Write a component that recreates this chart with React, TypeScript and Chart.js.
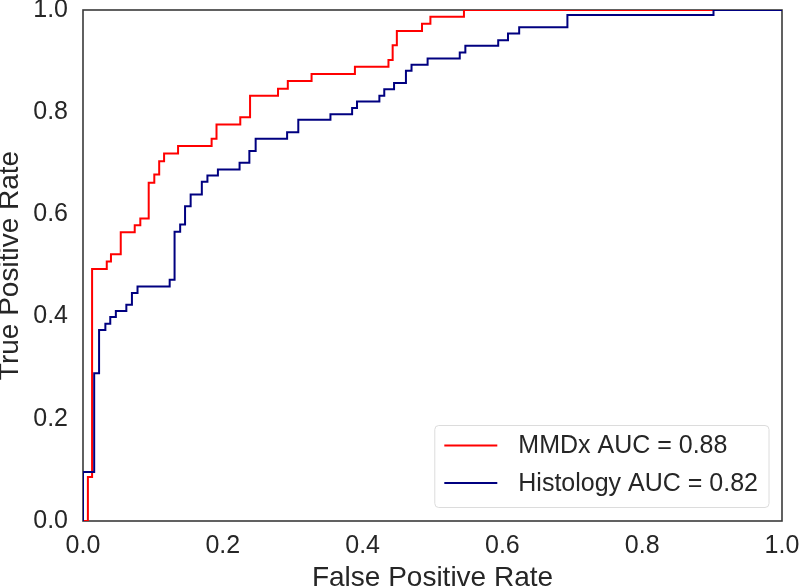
import React, { useEffect, useRef } from 'react';
import { Chart, registerables } from 'chart.js';

Chart.register(...registerables);

const FONT = "'Liberation Sans', Arial, Helvetica, sans-serif";
const TEXT_COLOR = '#262626';

const xTitle = 'False Positive Rate';
const yTitle = 'True Positive Rate';
const xTicks = [0, 0.2, 0.4, 0.6, 0.8, 1.0];
const yTicks = [0, 0.2, 0.4, 0.6, 0.8, 1.0];

const mmdxLabel = 'MMDx AUC = 0.88';
const mmdxColor = '#ff0000';
const mmdxFpr = [0, 0.007, 0.013, 0.034, 0.04, 0.054, 0.074, 0.082, 0.094, 0.102, 0.109, 0.116, 0.136, 0.184, 0.191, 0.225, 0.239, 0.279, 0.293, 0.327, 0.389, 0.437, 0.443, 0.449, 0.485, 0.497, 0.545, 1.0];
const mmdxTpr = [0, 0.086, 0.493, 0.508, 0.522, 0.565, 0.579, 0.592, 0.662, 0.678, 0.704, 0.719, 0.734, 0.748, 0.776, 0.79, 0.832, 0.846, 0.861, 0.875, 0.889, 0.902, 0.931, 0.959, 0.973, 0.987, 1.0, 1.0];

const histologyLabel = 'Histology AUC = 0.82';
const histologyColor = '#000080';
const histologyFpr = [0, 0, 0.016, 0.023, 0.032, 0.039, 0.047, 0.062, 0.07, 0.078, 0.124, 0.131, 0.139, 0.146, 0.154, 0.17, 0.178, 0.193, 0.224, 0.238, 0.247, 0.292, 0.308, 0.354, 0.385, 0.392, 0.424, 0.431, 0.445, 0.462, 0.47, 0.493, 0.539, 0.547, 0.594, 0.608, 0.624, 0.693, 0.902, 1.0];
const histologyTpr = [0, 0.096, 0.289, 0.374, 0.386, 0.399, 0.411, 0.423, 0.446, 0.459, 0.472, 0.566, 0.58, 0.616, 0.639, 0.664, 0.676, 0.688, 0.701, 0.724, 0.748, 0.761, 0.785, 0.796, 0.808, 0.821, 0.832, 0.845, 0.857, 0.881, 0.893, 0.905, 0.917, 0.93, 0.941, 0.954, 0.966, 0.99, 1.0, 1.0];

const toPoints = (xs: number[], ys: number[]) => xs.map((x, i) => ({ x, y: ys[i] }));

const framePlugin = {
  id: 'frame',
  beforeDatasetsDraw(chart: any) {
    const { ctx, chartArea: a } = chart;
    ctx.save();
    ctx.strokeStyle = '#3a3a3a';
    ctx.lineWidth = 1.6;
    ctx.strokeRect(a.left, a.top, a.right - a.left, a.bottom - a.top);
    ctx.restore();
  },
};

const legendPlugin = {
  id: 'insideLegend',
  afterDraw(chart: any) {
    const { ctx, chartArea: a } = chart;
    const items = [
      { label: mmdxLabel, color: mmdxColor },
      { label: histologyLabel, color: histologyColor },
    ];
    ctx.save();
    ctx.font = `25px ${FONT}`;
    const textW = Math.max(...items.map((it) => ctx.measureText(it.label).width));
    const padL = 9.5;
    const lineLen = 53;
    const gap = 21;
    const padR = 11;
    const boxW = padL + lineLen + gap + textW + padR;
    const boxH = 82;
    const x0 = a.right - 13 - boxW;
    const y0 = a.bottom - 13.5 - boxH;
    ctx.beginPath();
    ctx.roundRect(x0, y0, boxW, boxH, 4);
    ctx.fillStyle = 'rgba(255,255,255,0.85)';
    ctx.fill();
    ctx.strokeStyle = '#dcdcdc';
    ctx.lineWidth = 1;
    ctx.stroke();
    items.forEach((it, i) => {
      const cy = y0 + 20 + i * 37.6;
      ctx.beginPath();
      ctx.moveTo(x0 + padL, cy);
      ctx.lineTo(x0 + padL + lineLen, cy);
      ctx.strokeStyle = it.color;
      ctx.lineWidth = 2;
      ctx.stroke();
      ctx.fillStyle = TEXT_COLOR;
      ctx.textAlign = 'left';
      ctx.textBaseline = 'middle';
      ctx.fillText(it.label, x0 + padL + lineLen + gap, cy + 1);
    });
    ctx.restore();
  },
};

export default function App() {
  const canvasRef = useRef<HTMLCanvasElement | null>(null);

  useEffect(() => {
    document.body.style.margin = '0';
    const canvas = canvasRef.current;
    if (!canvas) return;
    const chart = new Chart(canvas, {
      type: 'line',
      data: {
        datasets: [
          {
            label: mmdxLabel,
            data: toPoints(mmdxFpr, mmdxTpr),
            borderColor: mmdxColor,
            backgroundColor: mmdxColor,
            borderWidth: 2,
            pointRadius: 0,
            stepped: 'before',
            fill: false,
            order: 1,
          },
          {
            label: histologyLabel,
            data: toPoints(histologyFpr, histologyTpr),
            borderColor: histologyColor,
            backgroundColor: histologyColor,
            borderWidth: 2,
            pointRadius: 0,
            stepped: 'before',
            fill: false,
            order: 0,
          },
        ],
      },
      options: {
        responsive: false,
        animation: false,
        events: [],
        layout: { padding: { top: 10, right: 18, bottom: 0, left: 0 } },
        plugins: {
          legend: { display: false },
          tooltip: { enabled: false },
        },
        scales: {
          x: {
            type: 'linear',
            min: 0,
            max: 1,
            grid: { display: false, drawTicks: false },
            border: { display: false },
            afterBuildTicks: (s: any) => {
              s.ticks = xTicks.map((v) => ({ value: v }));
            },
            afterFit: (s: any) => {
              s.height = 67;
              s.paddingLeft = 0;
              s.paddingRight = 0;
            },
            ticks: {
              color: TEXT_COLOR,
              padding: 10,
              maxRotation: 0,
              autoSkip: false,
              font: { family: FONT, size: 25 },
              callback: (v: any) => Number(v).toFixed(1),
            },
            title: {
              display: true,
              text: xTitle,
              color: TEXT_COLOR,
              padding: 0,
              font: { family: FONT, size: 28, lineHeight: 0.72 },
            },
          },
          y: {
            type: 'linear',
            min: 0,
            max: 1,
            grid: { display: false, drawTicks: false },
            border: { display: false },
            afterBuildTicks: (s: any) => {
              s.ticks = yTicks.map((v) => ({ value: v }));
            },
            afterFit: (s: any) => {
              s.width = 83;
              s.paddingTop = 0;
              s.paddingBottom = 0;
            },
            ticks: {
              color: TEXT_COLOR,
              padding: 15,
              autoSkip: false,
              font: { family: FONT, size: 25 },
              callback: (v: any) => Number(v).toFixed(1),
            },
            title: {
              display: true,
              text: yTitle,
              color: TEXT_COLOR,
              padding: 0,
              font: { family: FONT, size: 28, lineHeight: 0.72 },
            },
          },
        },
      },
      plugins: [framePlugin, legendPlugin],
    });
    return () => chart.destroy();
  }, []);

  return (
    <div style={{ width: 800, height: 588 }}>
      <canvas ref={canvasRef} width={800} height={588} style={{ display: 'block' }} />
    </div>
  );
}
